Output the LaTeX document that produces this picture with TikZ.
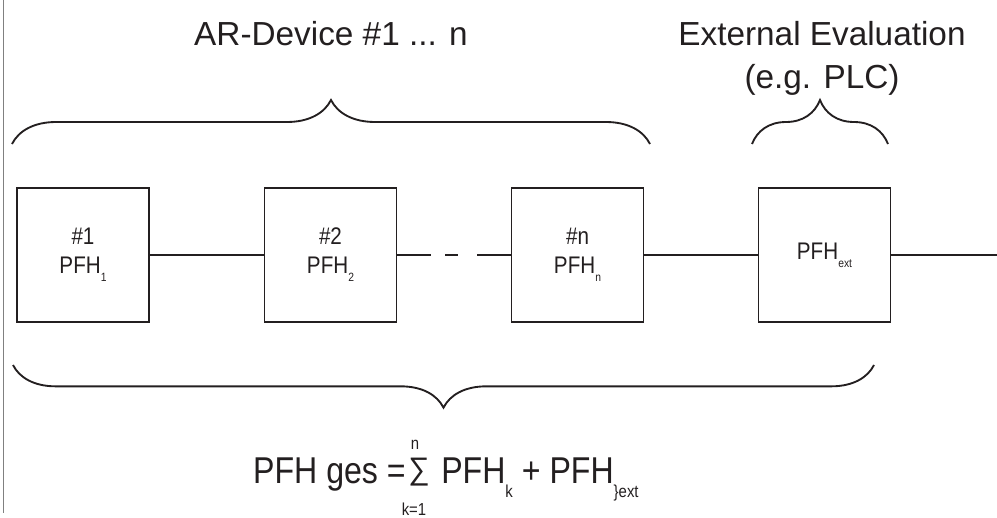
\documentclass[tikz,border=0pt]{standalone}
\usepackage{fontspec}
\setmainfont{Liberation Sans}
\newfontfamily\narrowfont{Liberation Sans}[FakeStretch=0.86]
\usetikzlibrary{decorations.pathreplacing}
\definecolor{ink}{HTML}{231F20}
\newcommand{\boxidx}[1]{\raisebox{-6pt}{\fontsize{9}{9}\selectfont #1}}
\newcommand{\sumidx}[1]{\raisebox{-10.5pt}{\fontsize{13}{13}\selectfont #1}}

\begin{document}
\begin{tikzpicture}[x=0.75pt,y=-0.75pt,
    unit/.style={draw=ink, line width=1.4pt, minimum width=99pt, minimum height=100.5pt,
                 inner sep=0pt, align=center, font=\narrowfont\fontsize{18}{21.75}\selectfont},
    title/.style={anchor=base, inner sep=0pt, font=\fontsize{25}{25}\selectfont},
    formula/.style={inner sep=0pt, font=\narrowfont\fontsize{28}{28}\selectfont},
    brace/.style={draw=ink, line width=1.4pt, decorate, decoration={brace, amplitude=33pt}}]
    \useasboundingbox (0,0) rectangle (997,518);
    \draw[gray, line width=0.6pt] (3,0) -- (3,513);

    \node[title, text=ink] (tdev) at (331,45) {AR-Device \#1 ... n};
    \node[title, text=ink] (text1) at (822,45) {External Evaluation};
    \node[title, text=ink] (text2) at (822,88) {(e.g. PLC)};

    \node[unit, text=ink] (d1) at (83,255) {\#1\\PFH\boxidx{1}};
    \node[unit, text=ink] (d2) at (330.5,255) {\#2\\PFH\boxidx{2}};
    \node[unit, text=ink] (dn) at (577.5,255) {\#n\\PFH\boxidx{n}};
    \node[unit, text=ink] (dext) at (824.5,255) {PFH\boxidx{ext}};
    \coordinate (out) at (997,255);

    \begin{scope}[every path/.style={draw=ink, line width=1.4pt}]
       \draw (d1) -- (d2);
       \draw[dash pattern=on 25.5pt off 10.5pt on 9.75pt off 14.25pt on 40pt] (d2) -- (dn);
       \draw (dn) -- (dext);
       \draw (dext) -- (out);
    \end{scope}

    % braces
    \draw[brace] (12,144) -- (650,144);
    \draw[brace] (752,144) -- (888,144);
    \draw[brace, decoration={amplitude=32pt}] (874,365) -- (13,365);

    % sum formula
    \node[formula, anchor=north, text=ink] (sum) at (419,458) {\resizebox*{16pt}{21pt}{∑}};
    \node[formula, anchor=base east, text=ink] (ges) at (406,483) {PFH ges =};
    \node[anchor=base, inner sep=0pt, text=ink, font=\narrowfont\fontsize{13}{13}\selectfont] (top) at (415,449) {n};
    \node[anchor=base, inner sep=0pt, text=ink, font=\narrowfont\fontsize{13}{13}\selectfont] (bot) at (414,515) {k=1};
    \node[formula, anchor=base west, text=ink] (rest) at (441,483) {PFH\sumidx{k} + PFH\sumidx{\}ext}};

\end{tikzpicture}
\end{document}
